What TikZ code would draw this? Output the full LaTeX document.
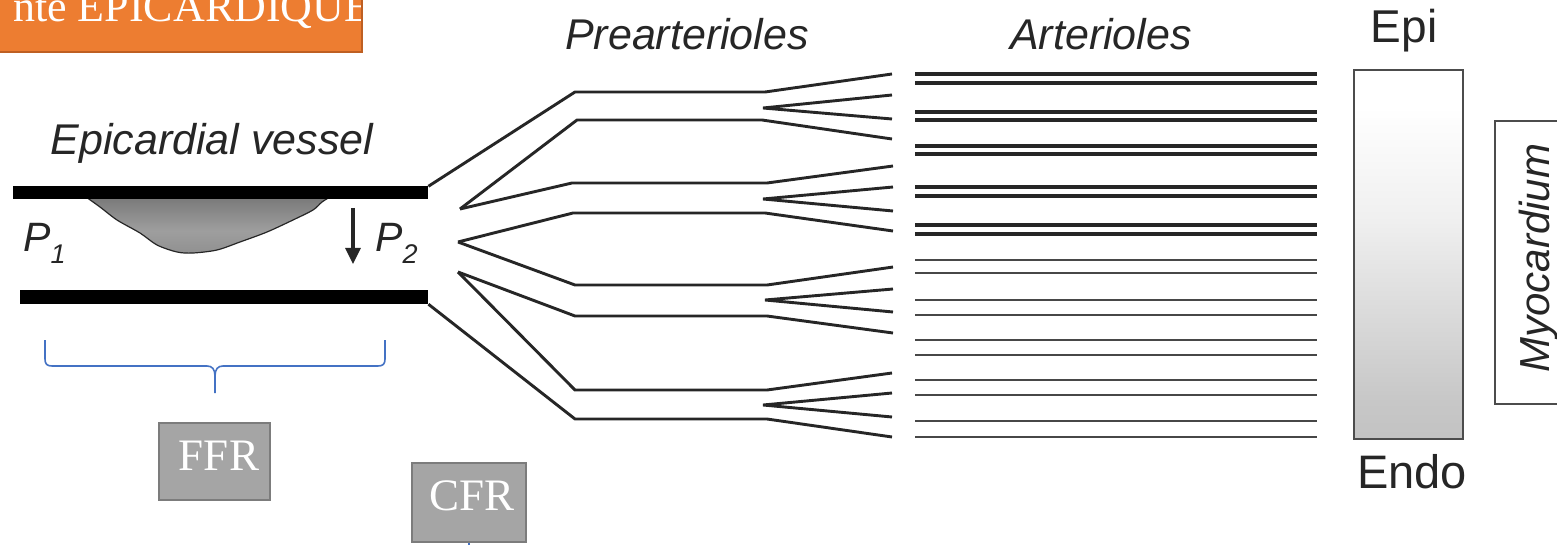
\documentclass[tikz,border=0pt]{standalone}
\usepackage{fontspec}
\setmainfont{Liberation Serif}
\setsansfont{Liberation Sans}
\usetikzlibrary{arrows.meta}

\definecolor{slideorange}{HTML}{ED7D31}
\definecolor{slideorangedark}{HTML}{BE5F22}
\definecolor{boxgray}{HTML}{A5A5A5}
\definecolor{boxgraydark}{HTML}{7C7C7C}
\definecolor{braceblue}{HTML}{4472C4}
\definecolor{ink}{HTML}{262626}

% light at the epicardium, darker towards the endocardium
\pgfdeclareverticalshading{epiendo}{100bp}{color(0bp)=(black!32); color(30bp)=(black!22); color(55bp)=(black!6); color(70bp)=(white); color(100bp)=(white)}
% stenosis plaque
\pgfdeclareverticalshading{plaque}{100bp}{color(0bp)=(black!50); color(45bp)=(black!38); color(80bp)=(black!55); color(100bp)=(black!72)}

\begin{document}
\begin{tikzpicture}[x=1pt,y=-1pt,
  lbl/.style={font=\sffamily\itshape\fontsize{43}{43}\selectfont, text=ink, inner sep=0pt},
  lyr/.style={font=\sffamily\fontsize{47}{47}\selectfont, text=ink, inner sep=0pt},
  wallbar/.style={fill=black, inner sep=0pt, anchor=west},
  pv/.style={line width=2.9pt, draw=black!85, line join=miter},
  artthick/.style={line width=3.4pt, draw=black!85},
  artthin/.style={line width=2.8pt, draw=black!72},
  graybox/.style={draw=boxgraydark, line width=2.5pt, fill=boxgray, inner sep=0pt},
  boxtext/.style={font=\fontsize{45}{45}\selectfont, text=white, inner sep=0pt},
  bluebrace/.style={draw=braceblue, line width=1.6pt},
]
\useasboundingbox (0,0) rectangle (1557,545);
\fill[white] (0,0) rectangle (1557,545);

% ---- title banner ----
\begin{scope}
  \clip (-5,-5) rectangle (362,52);
  \fill[slideorange] (-5,-5) rectangle (362,52);
  \node[anchor=base west, inner sep=0pt, text=white, font=\fontsize{44}{44}\selectfont] (banner) at (13,22) {nte EPICARDIQUE};
\end{scope}
\draw[slideorangedark, line width=1.5pt] (-5,52) -- (362,52) -- (362,-5);

% ---- epicardial vessel with stenosis ----
\draw[ink, line width=1.2pt, shading=plaque]
  plot[smooth] coordinates {(86,197) (100,207) (117,220) (140,233) (157,245) (177,252) (193,253) (217,250) (240,242) (267,232) (293,220) (313,210) (322,202) (330,197)} -- cycle;
\node[wallbar, minimum width=415pt, minimum height=13pt] (topwall) at (13,193) {};
\node[wallbar, minimum width=408pt, minimum height=14pt] (botwall) at (20,297) {};

\node[lbl, anchor=base] (vessel) at (212,155) {Epicardial vessel};
\node[lbl, anchor=base west, font=\sffamily\itshape\fontsize{41}{41}\selectfont] (p1) at (23,252) {P\raisebox{-12pt}{\fontsize{27}{27}\selectfont 1}};
\node[lbl, anchor=base west, font=\sffamily\itshape\fontsize{41}{41}\selectfont] (p2) at (375,252) {P\raisebox{-12pt}{\fontsize{27}{27}\selectfont 2}};
\coordinate (droptop) at (353,208);
\coordinate (dropend) at (353,264);
\draw[ink, line width=3.2pt, -{Triangle[length=16pt,width=15pt]}] (droptop) -- (dropend);

% ---- prearteriole tree ----
\coordinate (ja) at (460,209);
\coordinate (jb) at (458,242);
\coordinate (jc) at (458,272);
\draw[pv] (topwall.north east) -- (575,92) -- (765,92) -- (892,74);
\draw[pv] (ja) -- (577,120) -- (762,120) -- (892,139);
\draw[pv] (ja) -- (572,183) -- (767,183) -- (893,166);
\draw[pv] (jb) -- (573,213) -- (765,213) -- (893,231);
\draw[pv] (jb) -- (575,285) -- (767,285) -- (893,267);
\draw[pv] (jc) -- (575,316) -- (767,316) -- (893,333);
\draw[pv] (jc) -- (575,390) -- (767,390) -- (892,373);
\draw[pv] (botwall.south east) -- (575,419) -- (767,419) -- (892,437);

% forks into the arterioles
\coordinate (fa) at (763,108);
\coordinate (fb) at (763,199);
\coordinate (fc) at (765,300);
\coordinate (fd) at (763,405);
\draw[pv] (892,95) -- (fa) -- (892,119);
\draw[pv] (893,187) -- (fb) -- (893,211);
\draw[pv] (893,289) -- (fc) -- (893,312);
\draw[pv] (892,393) -- (fd) -- (892,417);

% ---- arterioles ----
\foreach \ya/\yb in {74/83, 112/120, 146/154, 187/196, 225/234}
  \draw[artthick] (915,\ya) -- (1317,\ya) (915,\yb) -- (1317,\yb);
\foreach \ya/\yb in {260/273, 300/315, 340/355, 380/395, 421/437}
  \draw[artthin] (915,\ya) -- (1317,\ya) (915,\yb) -- (1317,\yb);

\node[lbl, anchor=base] (pre) at (687,50) {Prearterioles};
\node[lbl, anchor=base] (arts) at (1101,50) {Arterioles};

% ---- myocardial layers ----
\node[draw=black!70, line width=2pt, shading=epiendo, minimum width=109pt, minimum height=369pt, anchor=north west, inner sep=0pt] (layers) at (1353,69) {};
\node[lyr, anchor=base, font=\sffamily\fontsize{46}{46}\selectfont] (epi) at (1404,43) {Epi};
\node[lyr, anchor=base] (endo) at (1412,488) {Endo};
\node[draw=black!70, line width=2pt, minimum width=110pt, minimum height=283pt, anchor=north west, inner sep=0pt] (myobox) at (1494,120) {};
\node[lbl, rotate=90, font=\sffamily\itshape\fontsize{42}{42}\selectfont] (myo) at (1539,258) {Myocardium};

% ---- FFR / CFR ----
\draw[bluebrace] (45,340) -- (45,359) .. controls (45,364) and (47,366) .. (52,366) -- (207,366) .. controls (212,366) and (215,369) .. (215,376) -- (215,393);
\draw[bluebrace] (385,340) -- (385,359) .. controls (385,364) and (383,366) .. (378,366) -- (223,366) .. controls (218,366) and (215,369) .. (215,376);

\node[graybox, minimum width=111pt, minimum height=77pt] (ffrbox) at (214.5,461.5) {};
\node[boxtext, anchor=base] (ffr) at (219,470) {FFR};
\node[graybox, minimum width=114pt, minimum height=79pt] (cfrbox) at (469,502.5) {};
\node[boxtext, anchor=base] (cfr) at (472,510) {CFR};
\draw[bluebrace] (cfrbox.south) -- ++(0,8);
\end{tikzpicture}
\end{document}
